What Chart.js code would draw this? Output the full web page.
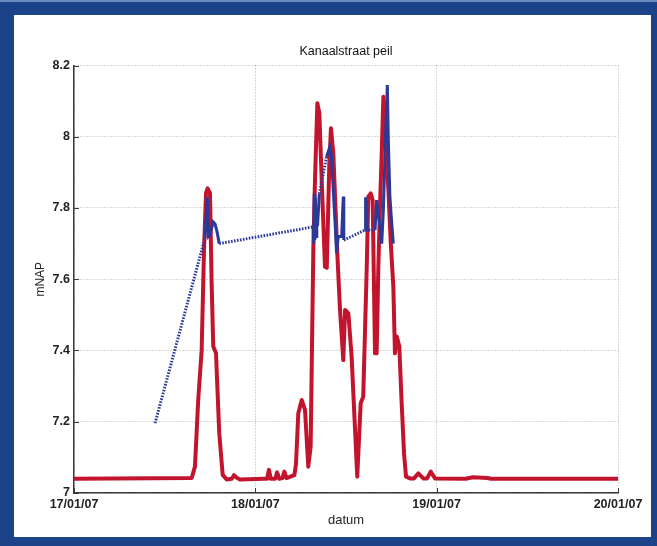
<!DOCTYPE html>
<html>
<head>
<meta charset="utf-8">
<script src="https://cdn.jsdelivr.net/npm/chart.js@4"></script>
<style>
html,body{margin:0;padding:0;}
body{width:657px;height:546px;background:#1c4388;position:relative;overflow:hidden;border-top:0;}
#topline{position:absolute;left:0;top:0;width:657px;height:2px;background:#6a8cc0;}
#frame{position:absolute;left:14px;top:15px;width:637px;height:522px;background:#fff;}
canvas{display:block;}
</style>
</head>
<body>
<div id="topline"></div>
<div id="frame"><canvas id="c" width="637" height="522"></canvas></div>
<script>
// x values are days since 17/01/07 00:00
const xTickLabels = ['17/01/07', '18/01/07', '19/01/07', '20/01/07'];
const yTickLabels = ['7', '7.2', '7.4', '7.6', '7.8', '8', '8.2'];

const redX = [0, 0.649, 0.667, 0.685, 0.704, 0.717, 0.728, 0.737, 0.750, 0.759, 0.768, 0.783, 0.801, 0.820, 0.842,
  0.870, 0.882, 0.900, 0.915, 1.050, 1.065, 1.075, 1.085, 1.110, 1.120, 1.132, 1.150, 1.160, 1.172, 1.190, 1.215,
  1.224, 1.237, 1.256, 1.274, 1.292, 1.305, 1.320, 1.329, 1.342, 1.353, 1.366, 1.384, 1.394, 1.408, 1.417, 1.430,
  1.452, 1.467, 1.485, 1.495, 1.513, 1.531, 1.550, 1.562, 1.581, 1.595, 1.614, 1.623, 1.636, 1.647, 1.660, 1.669,
  1.678, 1.688, 1.697, 1.706, 1.715, 1.724, 1.733, 1.747, 1.761, 1.770, 1.780, 1.794, 1.807, 1.820, 1.831, 1.853,
  1.875, 1.899, 1.926, 1.947, 1.967, 1.991, 2.160, 2.200, 2.280, 2.300, 3.000];
const redY = [7.04, 7.042, 7.074, 7.261, 7.401, 7.682, 7.842, 7.855, 7.842, 7.589, 7.411, 7.393, 7.168, 7.051, 7.038,
  7.040, 7.050, 7.042, 7.038, 7.040, 7.040, 7.065, 7.040, 7.040, 7.058, 7.040, 7.042, 7.060, 7.042, 7.045, 7.050,
  7.080, 7.224, 7.261, 7.233, 7.074, 7.130, 7.691, 7.879, 8.094, 8.066, 7.879, 7.635, 7.632, 7.925, 8.024, 7.954,
  7.673, 7.514, 7.373, 7.514, 7.504, 7.383, 7.177, 7.046, 7.252, 7.270, 7.626, 7.832, 7.841, 7.822, 7.392, 7.392,
  7.626, 7.814, 7.954, 8.112, 8.047, 7.907, 7.860, 7.701, 7.579, 7.392, 7.439, 7.411, 7.252, 7.111, 7.046, 7.041,
  7.041, 7.055, 7.041, 7.041, 7.060, 7.041, 7.040, 7.044, 7.042, 7.040, 7.040];

const blueX = [0.447, 0.722, 0.735, 0.742, 0.750, 0.767, 0.778, 0.789, 0.801, 1.319, 1.322, 1.325, 1.328, 1.331,
  1.335, 1.339, 1.343, 1.353, 1.393, 1.411, 1.419, 1.439, 1.448, 1.457, 1.476, 1.485, 1.488, 1.605, 1.608, 1.611,
  1.614, 1.617, 1.625, 1.660, 1.669, 1.678, 1.688, 1.697, 1.706, 1.715, 1.728, 1.733, 1.742, 1.751, 1.761];
const blueY = [7.196, 7.715, 7.830, 7.720, 7.724, 7.761, 7.755, 7.733, 7.700, 7.747, 7.700, 7.840, 7.710, 7.830,
  7.720, 7.800, 7.750, 7.840, 7.944, 7.972, 7.950, 7.766, 7.673, 7.720, 7.720, 7.832, 7.710, 7.738, 7.830, 7.740,
  7.822, 7.738, 7.738, 7.738, 7.822, 7.780, 7.750, 7.700, 7.794, 7.954, 8.145, 8.000, 7.832, 7.766, 7.700];

const toPts = (xs, ys) => xs.map((x, i) => ({x: x, y: ys[i]}));

const FONT = "'Liberation Sans', Arial, Helvetica, sans-serif";

const innerTicks = {
  id: 'innerTicks',
  afterDraw(chart) {
    const {ctx, chartArea: a, scales: {x, y}} = chart;
    ctx.save();
    ctx.strokeStyle = '#3a3a3a';
    ctx.lineWidth = 1;
    ctx.beginPath();
    x.ticks.forEach(t => {
      const px = Math.round(x.getPixelForValue(t.value)) + 0.5;
      ctx.moveTo(px, a.bottom); ctx.lineTo(px, a.bottom - 5);
    });
    y.ticks.forEach(t => {
      const py = Math.round(y.getPixelForValue(t.value)) + 0.5;
      ctx.moveTo(a.left, py); ctx.lineTo(a.left + 5, py);
    });
    ctx.stroke();
    ctx.restore();
  }
};

new Chart(document.getElementById('c'), {
  type: 'line',
  data: {
    datasets: [
      {
        label: 'blue',
        data: toPts(blueX, blueY),
        borderColor: '#2b3a98',
        borderWidth: 3,
        pointRadius: 0,
        tension: 0,
        borderCapStyle: 'butt',
        segment: {
          borderDash: ctx => (ctx.p1.parsed.x - ctx.p0.parsed.x > 0.03 ? [1.6, 1.4] : undefined)
        }
      },
      {
        label: 'red',
        data: toPts(redX, redY),
        borderColor: '#c3142d',
        borderWidth: 4,
        pointRadius: 0,
        tension: 0,
        borderJoinStyle: 'round'
      }
    ]
  },
  options: {
    responsive: false,
    animation: false,
    parsing: true,
    layout: {padding: {left: 0, right: 33, top: 0, bottom: 0}},
    plugins: {
      legend: {display: false},
      tooltip: {enabled: false},
      title: {
        display: true,
        text: 'Kanaalstraat peil',
        fullSize: false,
        color: '#111',
        font: {family: FONT, size: 12.5, weight: 'normal', lineHeight: 1.2},
        padding: {top: 29.2, bottom: 6.3}
      }
    },
    scales: {
      x: {
        type: 'linear',
        min: 0, max: 3,
        afterFit: s => { s.height = 44; },
        ticks: {
          stepSize: 1,
          padding: 4.5,
          color: '#222',
          maxRotation: 0,
          font: {family: FONT, size: 12.5, weight: 'bold', lineHeight: 1.2},
          callback: (v) => xTickLabels[Math.round(v)]
        },
        grid: {color: 'rgba(140,140,140,0.7)', lineWidth: 1, drawTicks: false},
        border: {display: true, color: '#3a3a3a', width: 1.5, dash: [1, 2]},
        title: {
          display: true, text: 'datum', color: '#222',
          font: {family: FONT, size: 13, weight: 'normal', lineHeight: 1.2},
          padding: {top: 0, bottom: 8.7}
        }
      },
      y: {
        type: 'linear',
        min: 7, max: 8.2,
        afterFit: s => { s.width = 60; },
        ticks: {
          stepSize: 0.2,
          padding: 4,
          color: '#222',
          font: {family: FONT, size: 12.5, weight: 'bold', lineHeight: 1.2},
          callback: (v) => yTickLabels[Math.round((v - 7) / 0.2)]
        },
        grid: {color: 'rgba(140,140,140,0.7)', lineWidth: 1, drawTicks: false},
        border: {display: true, color: '#3a3a3a', width: 1.5, dash: [1, 2]},
        title: {
          display: true, text: 'mNAP', color: '#222',
          font: {family: FONT, size: 12, weight: 'normal', lineHeight: 1.2},
          padding: {top: 19, bottom: 0}
        }
      }
    }
  },
  plugins: [innerTicks]
});
</script>
</body>
</html>
